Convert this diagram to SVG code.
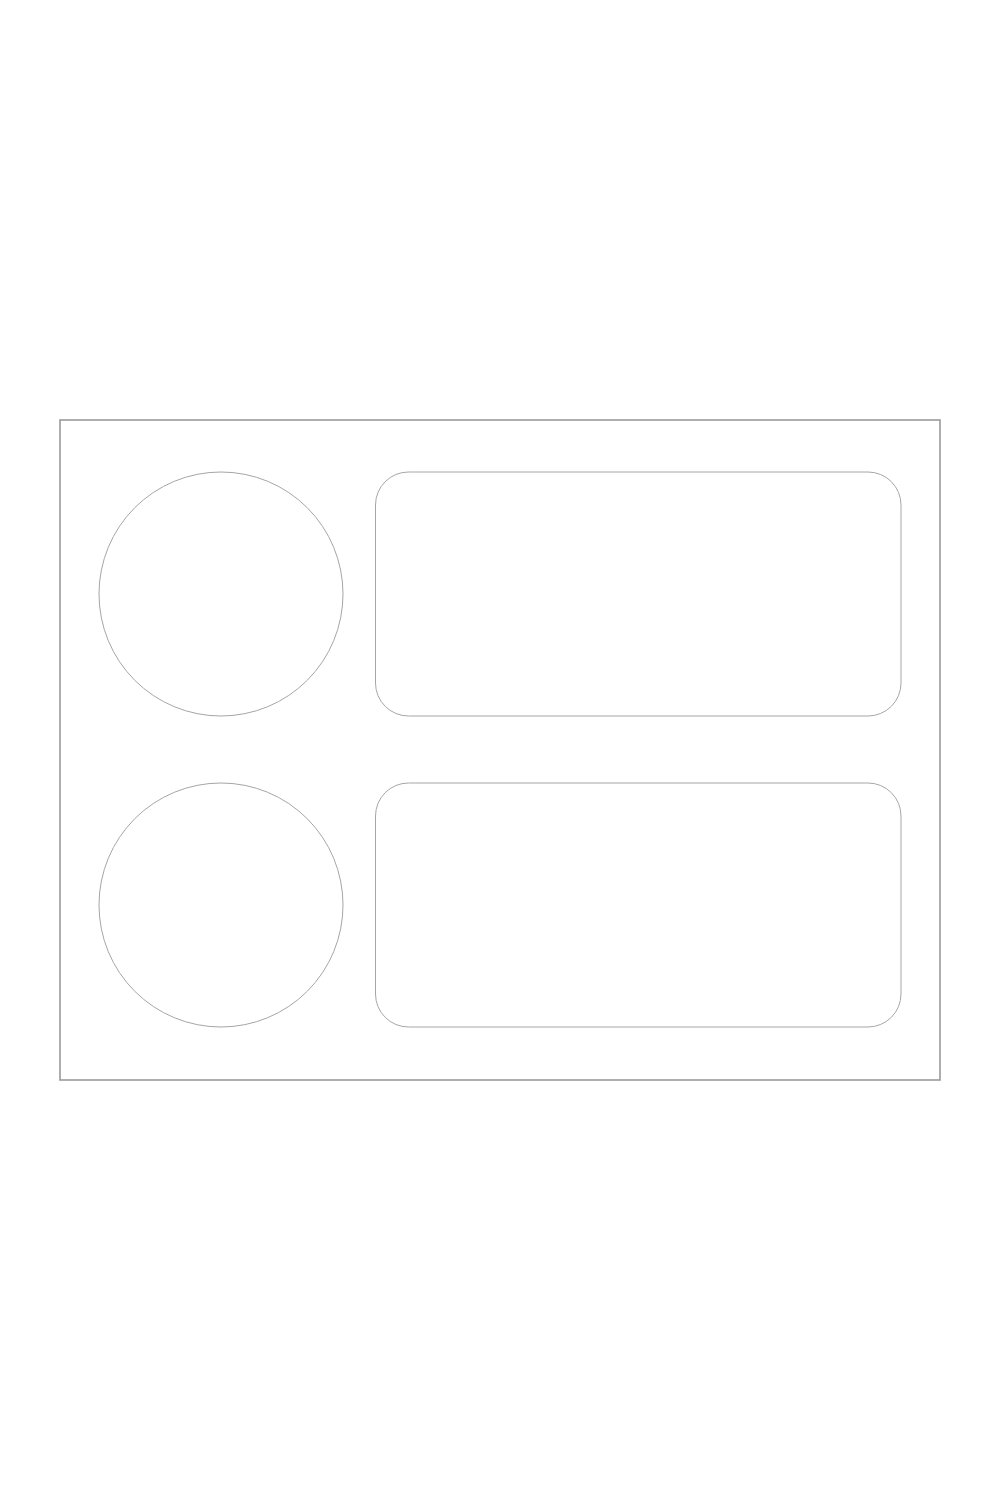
<svg xmlns="http://www.w3.org/2000/svg" width="1000" height="1500" viewBox="0 0 1000 1500">
<style>
.frame{fill:#fff;stroke:#9a9a9a;stroke-width:1.6}
.shape{fill:#fff;stroke:#a6a6a6;stroke-width:1}
</style>
<rect width="1000" height="1500" fill="#fff"/>
<g id="frame"><rect class="frame" x="60" y="420" width="880" height="660"/></g>
<g id="circle1"><circle class="shape" cx="221" cy="594" r="122"/></g>
<g id="box1"><rect class="shape" x="375.5" y="472" width="525.5" height="244" rx="33" ry="33"/></g>
<g id="circle2"><circle class="shape" cx="221" cy="905" r="122"/></g>
<g id="box2"><rect class="shape" x="375.5" y="783" width="525.5" height="244" rx="33" ry="33"/></g>
<g id="connectors"></g>
</svg>
